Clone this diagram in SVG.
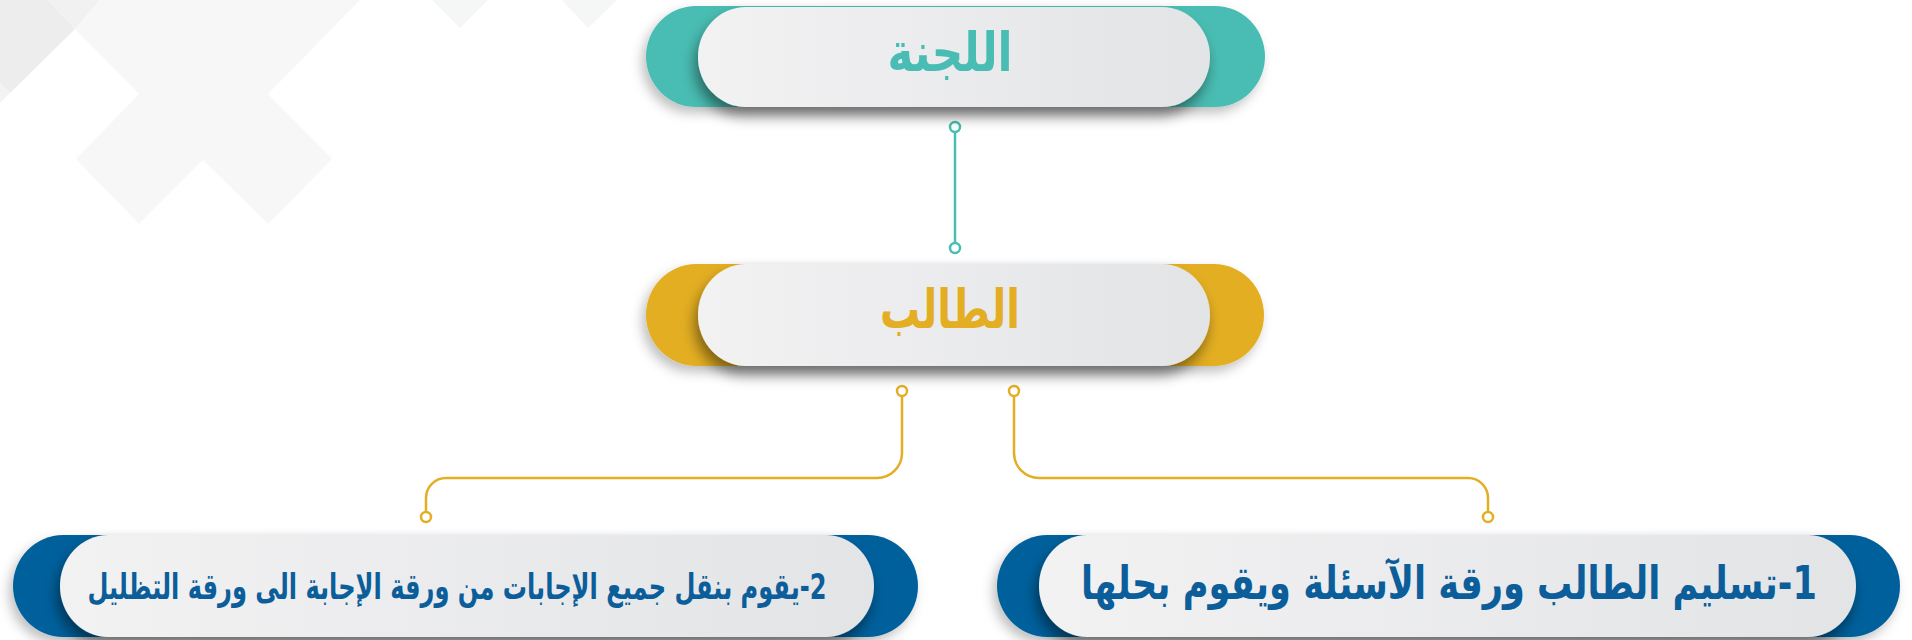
<svg xmlns="http://www.w3.org/2000/svg" width="1912" height="640" viewBox="0 0 1912 640">
  <defs>
    <linearGradient id="face" x1="0" y1="0" x2="1" y2="0">
      <stop offset="0" stop-color="#F2F2F3"/>
      <stop offset="1" stop-color="#E3E4E6"/>
    </linearGradient>
    <filter id="outerShadow" x="-10%" y="-30%" width="120%" height="170%">
      <feDropShadow dx="-4" dy="6" stdDeviation="6" flood-color="#000" flood-opacity="0.25"/>
    </filter>
    <filter id="innerShadow" x="-10%" y="-30%" width="120%" height="170%">
      <feDropShadow dx="-3" dy="9" stdDeviation="7" flood-color="#000" flood-opacity="0.45"/>
    </filter>
    <style>
      .face { fill: url(#face); filter: url(#innerShadow); }
      .back { filter: url(#outerShadow); }
      .teal { fill: #49BDB3; }
      .gold { fill: #E3AE24; }
      .blue { fill: #05609C; }
      .label { font-family: "DejaVu Sans", sans-serif; font-weight: bold; text-anchor: middle; direction: rtl; }
      .conn-gold { fill: none; stroke: #E3AE24; stroke-width: 2.5; }
      .conn-teal { fill: none; stroke: #49BDB3; stroke-width: 2.5; }
      .dot-gold { fill: #fff; stroke: #E3AE24; stroke-width: 2.5; }
      .dot-teal { fill: #fff; stroke: #49BDB3; stroke-width: 2.5; }
    </style>
  </defs>

  <g id="background">
    <polygon points="0,0 48,0 75,29 10,93 0,83" fill="#EDEDED"/>
    <polygon points="48,0 100,0 75,29" fill="#F1F1F1"/>
    <polygon points="0,83 10,93 0,103" fill="#F3F3F3"/>
    <polygon points="100,0 360,0 268,94 332,159 268,224 203,160 139,224 76,159 139,94 75,29" fill="#F7F7F7"/>
    <polygon points="432,0 488,0 460,28" fill="#F5F6F6"/>
    <polygon points="562,0 617,0 588,28" fill="#F5F6F6"/>
  </g>

  <g id="connectors">
    <line class="conn-teal" x1="955" y1="132" x2="955" y2="243"/>
    <circle class="dot-teal" cx="955" cy="127" r="5"/>
    <circle class="dot-teal" cx="955" cy="248" r="5"/>

    <path class="conn-gold" d="M902,396 V453 A25,25 0 0 1 877,478 H446 A20,20 0 0 0 426,498 V512"/>
    <circle class="dot-gold" cx="902" cy="391" r="5"/>
    <circle class="dot-gold" cx="426" cy="517" r="5"/>

    <path class="conn-gold" d="M1014,396 V453 A25,25 0 0 0 1039,478 H1468 A20,20 0 0 1 1488,498 V512"/>
    <circle class="dot-gold" cx="1014" cy="391" r="5"/>
    <circle class="dot-gold" cx="1488" cy="517" r="5"/>
  </g>

  <g id="node-committee">
    <rect class="back teal" x="646" y="6" width="619" height="101" rx="50" ry="50.5"/>
    <rect class="face" x="698" y="7" width="512" height="100" rx="48" ry="50"/>
    <text class="label" transform="translate(950,71) scale(0.81,1)" x="0" y="0" font-size="54" fill="#49BDB3">اللجنة</text>
  </g>

  <g id="node-student">
    <rect class="back gold" x="646" y="264" width="618" height="102" rx="50" ry="51"/>
    <rect class="face" x="698" y="264" width="512" height="102" rx="48" ry="51"/>
    <text class="label" transform="translate(950,328) scale(0.74,1)" x="0" y="0" font-size="54" fill="#E3AE24">الطالب</text>
  </g>

  <g id="node-step2">
    <rect class="back blue" x="13" y="535" width="905" height="102" rx="50" ry="51"/>
    <rect class="face" x="60" y="535" width="814" height="102" rx="48" ry="51"/>
    <text class="label" transform="translate(457,599) scale(0.67,1)" x="0" y="0" font-size="36" fill="#0B5E9A">2-يقوم بنقل جميع الإجابات من ورقة الإجابة الى ورقة التظليل</text>
  </g>

  <g id="node-step1">
    <rect class="back blue" x="997" y="535" width="903" height="102" rx="50" ry="51"/>
    <rect class="face" x="1039" y="535" width="817" height="102" rx="48" ry="51"/>
    <text class="label" transform="translate(1449,599) scale(0.765,1)" x="0" y="0" font-size="46" fill="#0B5E9A">1-تسليم الطالب ورقة الآسئلة ويقوم بحلها</text>
  </g>
</svg>
